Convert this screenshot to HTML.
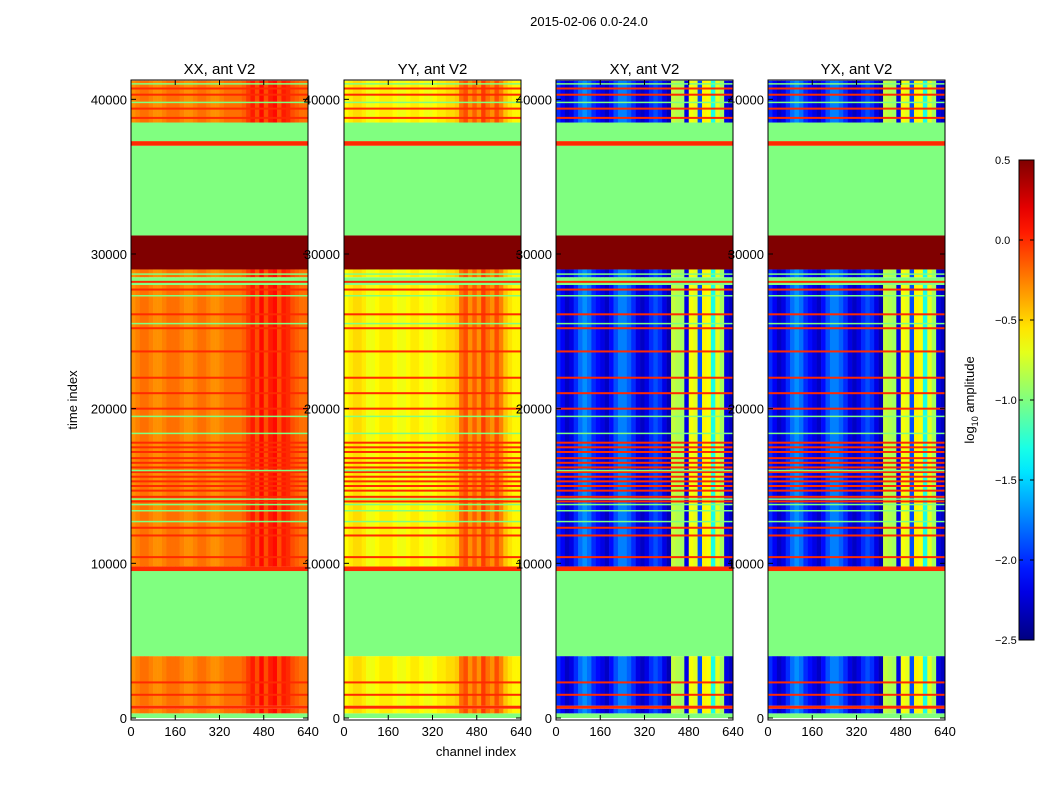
<!DOCTYPE html>
<html><head><meta charset="utf-8"><style>
body{margin:0;background:#fff;font-family:"Liberation Sans",sans-serif}
svg text{font-family:"Liberation Sans",sans-serif}
</style></head><body>
<svg id="c" width="1050" height="800" xmlns="http://www.w3.org/2000/svg">
<text x="589" y="26" font-size="13" text-anchor="middle">2015-02-06 0.0-24.0</text>
<text x="476" y="756" font-size="13" text-anchor="middle">channel index</text>
<text transform="translate(77,400) rotate(-90)" font-size="13" text-anchor="middle">time index</text>
<text transform="translate(974,400) rotate(-90)" font-size="13" text-anchor="middle">log<tspan font-size="9" dy="4">10</tspan><tspan dy="-4"> amplitude</tspan></text>
</svg>
<script>
const panelTitles=["XX, ant V2","YY, ant V2","XY, ant V2","YX, ant V2"];
const bands=[[0,300,"F"],[300,600,"D"],[600,800,"O"],[800,4000,"D"],[4000,9500,"F"],[9500,9800,"O"],[9800,28000,"D"],[28000,28500,"F"],[28500,29000,"D"],[29000,31200,"R"],[31200,37000,"F"],[37000,37300,"O"],[37300,38500,"F"],[38500,41200,"D"]];
const chBins=[0,16,32,48,64,80,96,112,128,144,160,176,192,208,224,240,256,272,288,304,320,336,352,368,384,400,416,432,448,464,480,496,512,528,544,560,576,592,608,624];
const profXX=[-0.3,-0.25,-0.2,-0.2,-0.25,-0.3,-0.3,-0.25,-0.2,-0.2,-0.2,-0.25,-0.3,-0.3,-0.25,-0.2,-0.2,-0.25,-0.3,-0.3,-0.25,-0.2,-0.2,-0.2,-0.2,-0.15,-0.05,0.05,-0.1,0.1,-0.1,0.05,0.1,-0.1,0.05,0.0,-0.1,-0.15,-0.2,-0.2];
const profYY=[-0.62,-0.57,-0.52,-0.52,-0.57,-0.67,-0.67,-0.62,-0.57,-0.57,-0.57,-0.62,-0.67,-0.67,-0.62,-0.57,-0.57,-0.62,-0.67,-0.67,-0.62,-0.57,-0.57,-0.52,-0.52,-0.47,-0.2,-0.1,-0.3,-0.15,-0.3,-0.05,-0.2,-0.3,-0.1,-0.25,-0.45,-0.55,-0.6,-0.6];
const profXY=[-2.0,-2.15,-2.3,-2.2,-2.0,-1.8,-1.7,-1.8,-2.0,-2.1,-2.2,-2.3,-2.1,-1.9,-1.75,-1.75,-1.85,-2.0,-2.2,-2.3,-2.2,-2.0,-1.9,-2.0,-2.2,-2.35,-0.8,-0.85,-0.9,-2.2,-0.65,-0.7,-1.9,-0.6,-0.65,-1.3,-0.7,-0.9,-2.2,-2.3];
const profYX=[-2.0,-2.15,-2.3,-2.2,-2.0,-1.8,-1.7,-1.8,-2.0,-2.1,-2.2,-2.3,-2.1,-1.9,-1.75,-1.75,-1.85,-2.0,-2.2,-2.3,-2.2,-2.0,-1.9,-2.0,-2.2,-2.35,-0.8,-0.85,-0.9,-2.2,-0.65,-0.7,-1.9,-0.6,-0.65,-1.3,-0.7,-0.9,-2.2,-2.3];
const profiles=[profXX,profYY,profXY,profYX];
const orangeLines=[1500,2300,10400,11800,12300,14000,14300,14700,15000,15300,15600,15900,16200,16500,16800,17200,17500,17800,20000,21000,22000,23700,25200,26100,27700,28200,38800,39400,40300,40700];
const greenLines=[12700,13400,13800,14150,16000,18400,19500,25500,27300,28700,39800,41000];
const xTicks=[0,160,320,480,640];
const yTicks=[0,10000,20000,30000,40000];
const cbTicks=[0.5,0.0,-0.5,-1.0,-1.5,-2.0,-2.5];

const NS="http://www.w3.org/2000/svg";
const svg=document.getElementById("c");
const panelX=[131,344,556,768], PW=177, PT=80, PB=720;
const yMin=-130,yMax=41250;
function ys(v){return PB-(v-yMin)/(yMax-yMin)*(PB-PT);}
function xs(p,c){return panelX[p]+c/640*PW;}
function jet(v){let t=(v+2.5)/3;t=Math.max(0,Math.min(1,t));
 const f=x=>Math.round(255*Math.max(0,Math.min(1,x)));
 return `rgb(${f(1.5-Math.abs(4*t-3))},${f(1.5-Math.abs(4*t-2))},${f(1.5-Math.abs(4*t-1))})`;}
function el(tag,attrs,parent){const e=document.createElementNS(NS,tag);for(const k in attrs)e.setAttribute(k,attrs[k]);(parent||svg).appendChild(e);return e;}
function txt(x,y,s,size,anchor,parent){const t=el("text",{x:x,y:y,"font-size":size,"text-anchor":anchor},parent);t.textContent=s;return t;}

for(let p=0;p<4;p++){
 const g=el("g",{});
 
 
 for(const b of bands){
  const y0=ys(b[1]),y1=ys(b[0]);
  if(b[2]==="D"){
   for(let i=0;i<chBins.length;i++){
    const c0=chBins[i],c1=i+1<chBins.length?chBins[i+1]:640;
    const r=el("rect",{x:xs(p,c0),y:y0,width:xs(p,c1)-xs(p,c0)+0.3,height:y1-y0,fill:jet(profiles[p][i])},g);
    
    
   }
  } else {
   const v=b[2]==="F"?-1.0:b[2]==="R"?0.6:0.0;
   const r=el("rect",{x:xs(p,0),y:y0,width:PW,height:y1-y0,fill:jet(v)},g);
   
   
  }
 }
 for(const t of orangeLines){
  const r=el("rect",{x:xs(p,0),y:ys(t)-1,width:PW,height:2,fill:jet(0.0)},g);
  
  
 }
 for(const t of greenLines){
  const r=el("rect",{x:xs(p,0),y:ys(t)-0.75,width:PW,height:1.5,fill:jet(-1.0)},g);
  
  
 }
 const fr=el("rect",{x:panelX[p],y:PT,width:PW,height:PB-PT,fill:"none",stroke:"#000","stroke-width":1});
 
 
 const ti=txt(panelX[p]+PW/2,74,panelTitles[p],15,"middle");
 
 
 for(const v of xTicks){
  const x=xs(p,v);
  el("line",{x1:x,x2:x,y1:PB,y2:PB-5,stroke:"#000"});
  el("line",{x1:x,x2:x,y1:PT,y2:PT+5,stroke:"#000"});
  const l=txt(x,736,String(v),13,"middle");
  
  
 }
 for(const v of yTicks){
  const y=ys(v);
  el("line",{x1:panelX[p],x2:panelX[p]+5,y1:y,y2:y,stroke:"#000"});
  el("line",{x1:panelX[p]+PW,x2:panelX[p]+PW-5,y1:y,y2:y,stroke:"#000"});
  const l=txt(panelX[p]-4,y+5,String(v),13,"end");
  
  
 }
}
// colorbar
const cbTop=160,cbBot=640,cbX=1019,cbW=15;
const defs=el("defs",{});
const lg=el("linearGradient",{id:"jg",x1:0,y1:1,x2:0,y2:0},defs);
for(let i=0;i<=20;i++){const v=-2.5+3*i/20;el("stop",{offset:(i/20),"stop-color":jet(v)},lg);}
const cb=el("rect",{x:cbX,y:cbTop,width:cbW,height:cbBot-cbTop,fill:"url(#jg)",stroke:"#000"});


for(const v of cbTicks){
 const y=cbBot-(v+2.5)/3*(cbBot-cbTop);
 el("line",{x1:cbX+cbW,x2:cbX+cbW-4,y1:y,y2:y,stroke:"#000"});
 el("line",{x1:cbX,x2:cbX+4,y1:y,y2:y,stroke:"#000"});
 const l=txt(995,y+4,(v>=0?"":"\u2212")+Math.abs(v).toFixed(1),11,"start");
 
 
}
</script>
</body></html>
